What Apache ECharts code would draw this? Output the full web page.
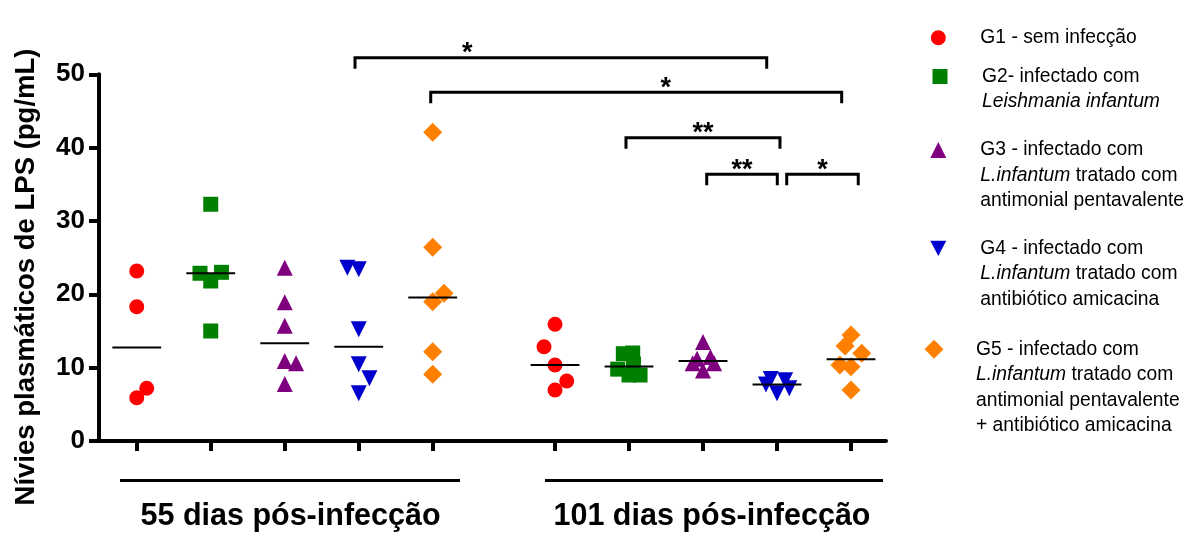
<!DOCTYPE html>
<html><head><meta charset="utf-8">
<script src="https://cdn.jsdelivr.net/npm/echarts@6/dist/echarts.min.js"></script>
<style>html,body{margin:0;padding:0;background:#fff}#c{width:1197px;height:533px}</style>
</head><body><div id="c"></div>
<script>
// ---------- data ----------
const groupNames = ['G1', 'G2', 'G3', 'G4', 'G5'];
const periodLabels = ['55 dias pós-infecção', '101 dias pós-infecção'];
const yTickValues = [0, 10, 20, 30, 40, 50];
// x slot of each group on the axis (55 d block, then 101 d block)
const slots55 = [1, 2, 3, 4, 5];
const slots101 = [6.653, 7.653, 8.653, 9.653, 10.653];

// values (pg/mL)
const g1_55 = [23.18, 18.31, 7.19, 5.9];
const g2_55 = [32.28, 22.87, 23.0, 21.82, 15.0];
const g3_55 = [23.63, 18.91, 15.72, 10.91, 10.6, 7.77];
const g4_55 = [23.63, 23.41, 15.23, 10.46, 8.55, 6.5];
const g5_55 = [42.1, 26.41, 20.14, 19.0, 12.18, 9.1];
const g1_101 = [15.91, 12.86, 10.36, 8.18, 6.95];
const g2_101 = [11.9, 12.0, 10.5, 9.8, 9.0, 9.0];
const g3_101 = [13.5, 11.45, 11.2, 10.6, 10.6, 9.6];
const g4_101 = [8.45, 8.3, 7.7, 7.2, 6.5];
const g5_101 = [14.45, 12.95, 11.95, 10.36, 10.14, 6.95];

// horizontal jitter of each point (in slot units)
const j1_55 = [0, 0, 0.135, 0];
const j2_55 = [0, -0.145, 0.145, 0, 0];
const j3_55 = [0, 0, 0, 0, 0.153, 0];
const j4_55 = [-0.153, 0, 0, 0, 0.145, 0];
const j5_55 = [0, 0, 0.153, 0, 0, 0];
const j1_101 = [0, -0.149, 0, 0.158, 0];
const j2_101 = [-0.077, 0.05, 0.06, -0.153, 0, 0.149];
const j3_101 = [0, 0.1, -0.08, -0.14, 0.15, 0];
const j4_101 = [-0.085, 0.11, -0.15, 0.166, 0];
const j5_101 = [0, -0.08, 0.145, -0.15, 0, 0];

// significance brackets: [x start, x end, y level, label, label x]
const brackets = [
  [3.95, 9.514, 52.27, '*', 5.468],
  [4.973, 10.527, 47.55, '*', 8.149],
  [7.612, 9.693, 41.36, '**', null],
  [8.703, 9.657, 36.37, '**', null],
  [9.784, 10.751, 36.37, '*', null]
];

const legendLabels = [
  ['G1 - sem infecção'],
  ['G2- infectado com', '{i|Leishmania infantum}'],
  ['G3 - infectado com', '{i|L.infantum} tratado com', 'antimonial pentavalente'],
  ['G4 - infectado com', '{i|L.infantum} tratado com', 'antibiótico amicacina'],
  ['G5 - infectado com', '{i|L.infantum} tratado com', 'antimonial pentavalente', '+ antibiótico amicacina']
];

// ---------- styling ----------
const FONT = "'Liberation Sans', Arial, sans-serif";
const colors = ['#ff0000', '#008000', '#7f007f', '#0000cc', '#ff8000'];
const symbols = ['circle', 'rect', 'triangle', 'path://M0,0L10,0L5,9.5Z', 'diamond'];
const symbolSizes = [15, 15, 16, 16, 19];
const legendCenters = [[938.3, 37.7], [940, 76.5], [938.3, 150], [938.3, 248.3], [934, 349.3]];
const LH = 25.5;

const vals55 = [g1_55, g2_55, g3_55, g4_55, g5_55];
const vals101 = [g1_101, g2_101, g3_101, g4_101, g5_101];
const jit55 = [j1_55, j2_55, j3_55, j4_55, j5_55];
const jit101 = [j1_101, j2_101, j3_101, j4_101, j5_101];

function median(a) {
  const s = a.slice().sort((x, y) => x - y);
  const m = Math.floor(s.length / 2);
  return s.length % 2 ? s[m] : (s[m - 1] + s[m]) / 2;
}

const series = groupNames.map((name, gi) => {
  const data = [];
  vals55[gi].forEach((v, k) => data.push([slots55[gi] + jit55[gi][k], v]));
  vals101[gi].forEach((v, k) => data.push([slots101[gi] + jit101[gi][k], v]));
  return {
    type: 'scatter', name, data,
    symbol: symbols[gi], symbolSize: symbolSizes[gi],
    itemStyle: { color: colors[gi], opacity: 1 },
    emphasis: { disabled: true }, z: 2
  };
});

const medianData = [];
groupNames.forEach((n, gi) => {
  medianData.push([slots55[gi], median(vals55[gi])]);
  medianData.push([slots101[gi], median(vals101[gi])]);
});
series.push({
  type: 'custom', name: 'mediana', data: medianData, z: 5, silent: true,
  renderItem: (params, api) => {
    const x = api.value(0), y = api.value(1);
    const a = api.coord([x - 0.33, y]), b = api.coord([x + 0.33, y]);
    return { type: 'line', shape: { x1: a[0], y1: a[1], x2: b[0], y2: b[1] },
      style: { stroke: '#000', lineWidth: 2 } };
  }
});

series.push({
  type: 'custom', name: 'sig', data: brackets, z: 6, silent: true, clip: false,
  renderItem: (params, api) => {
    const br = brackets[params.dataIndex];
    const a = api.coord([br[0], br[2]]), b = api.coord([br[1], br[2]]);
    const lx = br[4] == null ? (a[0] + b[0]) / 2 : api.coord([br[4], br[2]])[0];
    const leg = 11;
    return { type: 'group', children: [
      { type: 'polyline', shape: { points: [[a[0], a[1] + leg], [a[0], a[1]], [b[0], b[1]], [b[0], b[1] + leg]] },
        style: { stroke: '#000', lineWidth: 3, fill: null } },
      { type: 'text', x: lx, y: a[1] - 4, style: { text: br[3], fill: '#000', font: 'bold 27px ' + FONT, align: 'center', verticalAlign: 'middle' } }
    ] };
  }
});

const legends = groupNames.map((name, gi) => {
  const lines = legendLabels[gi];
  const N = lines.length;
  const pad = [];
  for (let k = 0; k < N - 1; k++) pad.push('{n| }');
  const text = pad.concat(lines).join('\n');
  const w = symbolSizes[gi], h = symbolSizes[gi];
  const [cx, cy] = legendCenters[gi];
  return {
    data: [name], orient: 'vertical', padding: 0,
    left: cx - w / 2, top: cy - (2 * N - 1) * LH / 2,
    itemWidth: w, itemHeight: h,
    selectedMode: false,
    formatter: () => text,
    textStyle: { fontFamily: FONT, fontSize: 19.3, color: '#000', lineHeight: LH,
      padding: [0, 0, 0, 37 - w / 2],
      rich: { i: { fontFamily: FONT, fontSize: 19.3, fontStyle: 'italic', color: '#000', lineHeight: LH },
              n: { fontFamily: FONT, fontSize: 19.3, lineHeight: LH } } }
  };
});

const chart = echarts.init(document.getElementById('c'), null, { renderer: 'canvas' });
chart.setOption({
  backgroundColor: '#fff',
  animation: false,
  grid: { left: 99, right: 311, top: 74.3, bottom: 92, outerBoundsMode: 'none' },
  xAxis: {
    type: 'value', min: 0.49, max: 11.126,
    axisLine: { show: true, onZero: false, lineStyle: { color: '#000', width: 4 } },
    axisTick: { show: true, length: 10, customValues: slots55.concat(slots101), lineStyle: { color: '#000', width: 4 } },
    axisLabel: { show: false },
    splitLine: { show: false }
  },
  yAxis: {
    type: 'value', min: 0, max: 50, interval: 10,
    axisLine: { show: true, lineStyle: { color: '#000', width: 4 } },
    axisTick: { show: true, length: 10, customValues: yTickValues, lineStyle: { color: '#000', width: 4 } },
    axisLabel: { margin: 14, customValues: yTickValues, color: '#000', fontFamily: FONT, fontWeight: 'bold', fontSize: 26 },
    splitLine: { show: false }
  },
  legend: legends,
  series,
  graphic: [
    { type: 'text', x: 26, y: 277, rotation: Math.PI / 2,
      style: { text: 'Nívies plasmáticos de LPS (pg/mL)', font: 'bold 27.5px ' + FONT, fill: '#000', align: 'center', verticalAlign: 'middle' } },
    { type: 'line', shape: { x1: 120, y1: 480.5, x2: 460, y2: 480.5 }, style: { stroke: '#000', lineWidth: 3 } },
    { type: 'line', shape: { x1: 545, y1: 480.5, x2: 883, y2: 480.5 }, style: { stroke: '#000', lineWidth: 3 } },
    { type: 'text', x: 290.5, y: 517, style: { text: periodLabels[0], font: 'bold 30.5px ' + FONT, fill: '#000', align: 'center', verticalAlign: 'middle' } },
    { type: 'text', x: 712, y: 517, style: { text: periodLabels[1], font: 'bold 30.5px ' + FONT, fill: '#000', align: 'center', verticalAlign: 'middle' } }
  ]
});
</script></body></html>
